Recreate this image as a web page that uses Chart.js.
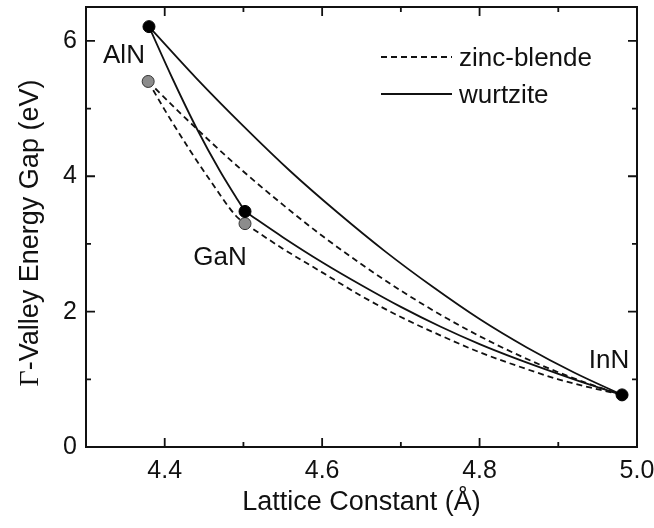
<!DOCTYPE html>
<html><head><meta charset="utf-8">
<script src="https://cdn.jsdelivr.net/npm/chart.js@4/dist/chart.umd.min.js"></script>
<style>html,body{margin:0;padding:0;background:#fff}</style>
</head><body>
<canvas id="c" width="654" height="528"></canvas>
<script>
// ---- data ----
const compounds = ['AlN', 'GaN', 'InN'];
const wzLattice = [4.380, 4.502, 4.981];
const wzGap = [6.21, 3.48, 0.77];
const zbLattice = [4.379, 4.502];
const zbGap = [5.40, 3.30];

// wurtzite curves
const wzAlnInnX = [4.380, 4.44, 4.50, 4.56, 4.62, 4.68, 4.74, 4.80, 4.86, 4.92, 4.981];
const wzAlnInnY = [6.21, 5.45, 4.74, 4.07, 3.46, 2.89, 2.37, 1.89, 1.47, 1.10, 0.77];
const wzAlnGanX = [4.380, 4.41, 4.44, 4.47, 4.49, 4.502];
const wzAlnGanY = [6.21, 5.44, 4.72, 4.08, 3.70, 3.48];
const wzGanInnX = [4.502, 4.55, 4.60, 4.65, 4.70, 4.75, 4.80, 4.85, 4.90, 4.94, 4.981];
const wzGanInnY = [3.48, 3.10, 2.73, 2.39, 2.07, 1.78, 1.52, 1.29, 1.08, 0.92, 0.77];
// zinc-blende curves
const zbAlnInnX = [4.379, 4.42, 4.46, 4.50, 4.55, 4.60, 4.65, 4.70, 4.76, 4.82, 4.88, 4.93, 4.981];
const zbAlnInnY = [5.40, 4.93, 4.49, 4.07, 3.58, 3.12, 2.70, 2.31, 1.89, 1.52, 1.20, 0.97, 0.77];
const zbAlnGanX = [4.379, 4.40, 4.43, 4.46, 4.49, 4.502];
const zbAlnGanY = [5.40, 4.98, 4.42, 3.90, 3.42, 3.30];
const zbGanInnX = [4.502, 4.55, 4.60, 4.65, 4.70, 4.75, 4.80, 4.85, 4.90, 4.94, 4.981];
const zbGanInnY = [3.30, 2.93, 2.58, 2.23, 1.92, 1.65, 1.40, 1.19, 1.00, 0.88, 0.77];

const xMajorTicks = [4.4, 4.6, 4.8, 5.0];
const xMinorTicks = [4.5, 4.7, 4.9];
const yMajorTicks = [0, 2, 4, 6];
const yMinorTicks = [1, 3, 5];
const xTitle = 'Lattice Constant (Å)';
const yTitleGreek = 'Γ';
const yTitleRest = '-Valley Energy Gap (eV)';
const legendLabels = ['zinc-blende', 'wurtzite'];

const FONT = 'Liberation Sans, Arial, Helvetica, sans-serif';
const SERIF = 'Liberation Serif, Times New Roman, serif';
const pts = (xs, ys) => xs.map((x, i) => ({x, y: ys[i]}));

function curve(xs, ys, dashed) {
  return {
    data: pts(xs, ys), showLine: true, borderColor: '#111', borderWidth: 1.8,
    borderDash: dashed ? [6, 4] : [], pointRadius: 0, cubicInterpolationMode: 'monotone',
    fill: false, order: 2
  };
}

const decor = {
  id: 'decor',
  afterDraw(chart) {
    const ctx = chart.ctx, ca = chart.chartArea;
    const xs = chart.scales.x, ys = chart.scales.y;
    ctx.save();
    ctx.strokeStyle = '#111';
    ctx.lineWidth = 2;
    ctx.strokeRect(ca.left, ca.top, ca.right - ca.left, ca.bottom - ca.top);
    ctx.lineWidth = 1.8;
    const tick = (vals, len, horiz) => {
      vals.forEach(v => {
        ctx.beginPath();
        if (horiz) {
          const p = xs.getPixelForValue(v);
          ctx.moveTo(p, ca.bottom); ctx.lineTo(p, ca.bottom - len);
          ctx.moveTo(p, ca.top); ctx.lineTo(p, ca.top + len);
        } else {
          const p = ys.getPixelForValue(v);
          ctx.moveTo(ca.left, p); ctx.lineTo(ca.left + len, p);
          ctx.moveTo(ca.right, p); ctx.lineTo(ca.right - len, p);
        }
        ctx.stroke();
      });
    };
    tick(xMajorTicks, 9, true); tick(xMinorTicks, 5, true);
    tick(yMajorTicks, 9, false); tick(yMinorTicks, 5, false);

    // legend
    ctx.font = '26px ' + FONT;
    ctx.fillStyle = '#111';
    ctx.textAlign = 'left';
    ctx.textBaseline = 'alphabetic';
    const lx0 = ca.right - 256, lx1 = ca.right - 185, tx = ca.right - 178;
    const rows = [[ca.top + 50, [6, 4]], [ca.top + 87, []]];
    rows.forEach((r, i) => {
      ctx.setLineDash(r[1]);
      ctx.beginPath(); ctx.moveTo(lx0, r[0]); ctx.lineTo(lx1, r[0]); ctx.stroke();
      ctx.setLineDash([]);
      ctx.fillText(legendLabels[i], tx, r[0] + 9);
    });

    // compound labels
    ctx.textAlign = 'center';
    const off = [[-25, 36], [-25, 54], [-13, -27]];
    compounds.forEach((name, i) => {
      const px = xs.getPixelForValue(wzLattice[i]);
      const py = ys.getPixelForValue(wzGap[i]);
      ctx.fillText(name, px + off[i][0], py + off[i][1]);
    });

    // y axis title (serif Gamma + sans rest), rotated
    const gFont = '28px ' + SERIF, rFont = '27px ' + FONT;
    ctx.font = gFont; const gw = ctx.measureText(yTitleGreek).width;
    ctx.font = rFont; const rw = ctx.measureText(yTitleRest).width;
    const total = gw + rw;
    ctx.translate(38, (ca.top + ca.bottom) / 2 + 6);
    ctx.rotate(-Math.PI / 2);
    ctx.textAlign = 'left';
    ctx.font = gFont; ctx.fillText(yTitleGreek, -total / 2, 0);
    ctx.font = rFont; ctx.fillText(yTitleRest, -total / 2 + gw, 0);
    ctx.restore();
  }
};

new Chart(document.getElementById('c'), {
  type: 'scatter',
  data: {
    datasets: [
      {data: pts(wzLattice, wzGap), backgroundColor: '#000', borderColor: '#000', pointRadius: 6, borderWidth: 1, order: 0},
      {data: pts(zbLattice, zbGap), backgroundColor: '#8c8c8c', borderColor: '#333', pointRadius: 6, borderWidth: 1, order: 1},
      curve(wzAlnInnX, wzAlnInnY, false),
      curve(wzAlnGanX, wzAlnGanY, false),
      curve(wzGanInnX, wzGanInnY, false),
      curve(zbAlnInnX, zbAlnInnY, true),
      curve(zbAlnGanX, zbAlnGanY, true),
      curve(zbGanInnX, zbGanInnY, true)
    ]
  },
  options: {
    responsive: false, animation: false, devicePixelRatio: 1,
    layout: {padding: {left: 0, right: 17, top: 6, bottom: 0}},
    plugins: {legend: {display: false}, tooltip: {enabled: false}},
    scales: {
      x: {
        type: 'linear', min: 4.3, max: 5.0,
        grid: {display: false, drawTicks: false}, border: {display: false},
        afterBuildTicks: s => { s.ticks = xMajorTicks.map(v => ({value: v})); },
        ticks: {font: {family: FONT, size: 25}, color: '#111', padding: 9, maxRotation: 0, autoSkip: false,
                callback: v => Number(v).toFixed(1)},
        title: {display: true, text: xTitle, font: {family: FONT, size: 27}, color: '#111', padding: {top: 0, bottom: 9}},
        afterFit: s => { s.height = 81; s.paddingLeft = 0; s.paddingRight = 0; }
      },
      y: {
        type: 'linear', min: 0, max: 6.5,
        grid: {display: false, drawTicks: false}, border: {display: false},
        afterBuildTicks: s => { s.ticks = yMajorTicks.map(v => ({value: v})); },
        ticks: {font: {family: FONT, size: 25}, color: '#111', padding: 9, autoSkip: false,
                callback: v => String(v)},
        title: {display: false},
        afterFit: s => { s.width = 86; s.paddingTop = 0; s.paddingBottom = 0; }
      }
    }
  },
  plugins: [decor]
});
</script>
</body></html>
